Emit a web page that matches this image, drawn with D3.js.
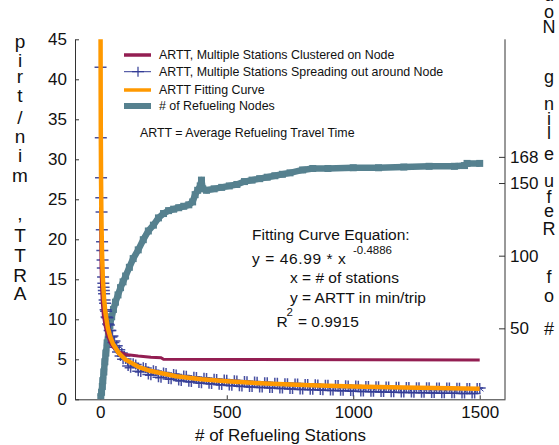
<!DOCTYPE html>
<html><head><meta charset="utf-8">
<script src="https://cdn.jsdelivr.net/npm/d3@7"></script>
<style>body{margin:0;background:#fff}svg{display:block;font-family:"Liberation Sans",Arial,Helvetica,sans-serif}</style>
</head><body><svg id="c" width="559" height="445"></svg>
<script>
// ---------- data ----------
const xTicks = [0, 500, 1000, 1500];
const yLeftTicks = [0, 5, 10, 15, 20, 25, 30, 35, 40, 45];
const yRightTicks = [50, 100, 150, 168];

// ARTT fitting curve
const fitX = [1, 1.5, 2, 3, 4, 5, 7, 10, 15, 20, 30, 40, 50, 75, 100, 150, 200, 300, 400, 500, 600, 800, 1000, 1200, 1500];
const fitY = [46.99, 38.5, 33.5, 27.5, 23.9, 21.4, 18.2, 15.2, 12.5, 10.9, 8.9, 7.75, 6.95, 5.7, 4.96, 4.06, 3.53, 2.89, 2.51, 2.25, 2.06, 1.79, 1.61, 1.47, 1.32];

// ARTT, multiple stations clustered on node
const clusX = [1, 2, 3, 5, 8, 12, 20, 30, 40, 50, 70, 100, 150, 200, 240, 250, 1500];
const clusY = [24, 19, 16.5, 14, 12, 10.5, 9, 7.8, 7, 6.5, 6, 5.6, 5.4, 5.25, 5.2, 5.0, 4.9];

// ARTT, multiple stations spreading out around node
const spreadX = [1, 2, 3, 4, 5, 6, 7, 8, 9, 10, 11, 12, 13, 14, 15, 17, 19, 21, 23, 25, 28, 31, 34, 37, 40, 44, 48, 52, 56, 60, 65, 70, 75, 80, 85, 90, 95,
  100, 120, 140, 160, 180, 200, 220, 240, 260, 280, 300, 320, 340, 360, 380, 400, 420, 440, 460, 480, 500, 520, 540, 560, 580, 600,
  620, 640, 660, 680, 700, 720, 740, 760, 780, 800, 820, 840, 860, 880, 900, 920, 940, 960, 980, 1000, 1020, 1040, 1060, 1080, 1100,
  1120, 1140, 1160, 1180, 1200, 1220, 1240, 1260, 1280, 1300, 1320, 1340, 1360, 1380, 1400, 1420, 1440, 1460, 1480, 1500];
const spreadY = [41.5, 32.7, 27.7, 25.2, 23.4, 21.2, 19.7, 18.6, 17.4, 16.4, 15.3, 14.5, 14.0, 13.6, 13.2, 12.4, 12.0, 11.2, 11.0, 10.3, 10.2, 9.4, 9.3, 8.6, 8.6, 7.8, 7.9, 7.1, 7.3, 6.5, 6.7, 5.9, 6.2, 5.4, 5.8, 5.0, 5.4,
  5.05, 3.95, 4.35, 3.40, 3.90, 3.00, 3.55, 2.70, 3.30, 2.50, 3.10, 2.30, 2.93, 2.15, 2.78, 2.02, 2.66, 1.90, 2.55, 1.80, 2.45, 1.70, 2.35, 1.61, 2.27, 1.53,
  2.19, 1.46, 2.13, 1.40, 2.07, 1.34, 2.01, 1.28, 1.96, 1.23, 1.91, 1.18, 1.86, 1.14, 1.82, 1.10, 1.78, 1.06, 1.74, 1.02, 1.70, 0.98, 1.66, 0.95, 1.63,
  0.92, 1.60, 0.89, 1.57, 0.86, 1.55, 0.83, 1.52, 0.81, 1.50, 0.79, 1.48, 0.77, 1.46, 0.75, 1.44, 0.73, 1.42, 0.71, 1.40];
const spreadX2 = [110, 130, 150, 170, 190, 210, 230, 250, 270, 290, 310, 330, 350, 370, 390, 410, 430, 450, 470, 490, 510, 530, 550, 570, 590,
  610, 630, 650, 670, 690, 710, 730, 750, 770, 790, 810, 830, 850, 870, 890, 910, 930, 950, 970, 990, 1010, 1030, 1050, 1070, 1090,
  1110, 1130, 1150, 1170, 1190, 1210, 1230, 1250, 1270, 1290, 1310, 1330, 1350, 1370, 1390, 1410, 1430, 1450, 1470, 1490, 1515];
const spreadY2 = [4.15, 4.5, 3.52, 4.0, 3.10, 3.62, 2.77, 3.35, 2.55, 3.15, 2.35, 2.97, 2.19, 2.81, 2.05, 2.69, 1.93, 2.57, 1.82, 2.47, 1.72, 2.37, 1.63, 2.29, 1.55,
  2.21, 1.47, 2.14, 1.41, 2.08, 1.35, 2.02, 1.29, 1.97, 1.24, 1.92, 1.19, 1.87, 1.15, 1.83, 1.11, 1.79, 1.07, 1.75, 1.03, 1.71, 0.99, 1.67, 0.95, 1.64,
  0.92, 1.61, 0.89, 1.58, 0.86, 1.55, 0.84, 1.52, 0.81, 1.50, 0.79, 1.48, 0.77, 1.46, 0.75, 1.44, 0.73, 1.42, 0.71, 1.40, 1.0];

// # of refueling nodes (right axis)
const nodesX = [2, 5, 8, 10, 14, 18, 22, 27, 32, 38, 45, 52, 60, 70, 80, 90, 100, 115, 130, 150, 170, 190, 210, 230, 250, 270, 290, 310, 330, 350, 365, 375, 385, 395, 400, 405, 420, 450, 480, 510, 540, 570, 600, 630, 660, 690, 720, 750, 800, 840, 900, 1000, 1100, 1200, 1300, 1400, 1440, 1450, 1500];
const nodesY = [3, 6, 10, 14, 20, 27, 33, 40, 46, 52, 58, 63, 68, 73, 78, 82, 86, 92, 98, 104, 111, 117, 121, 126, 129, 131, 132, 133, 134, 135, 137, 142, 145, 148, 152, 146, 145, 146, 147, 148, 149, 151, 152, 153, 154, 155, 156, 157, 159, 160, 160, 160.5, 160.5, 161, 161.5, 161.5, 162, 163.5, 163.5];

const legendLabels = ["ARTT, Multiple Stations Clustered on Node", "ARTT, Multiple Stations Spreading out around Node", "ARTT Fitting Curve", "# of Refueling Nodes"];
const leftTitle = "ARTT, min/trip";
const rightTitle = "# of Refueling Nodes";
const xTitle = "# of Refueling Stations";

// ---------- drawing ----------
const C = {clus: "#931e52", spread: "#333c96", fit: "#ff9900", nodes: "#56818f", axis: "#333", text: "#111"};
const svg = d3.select("#c");
const x = d3.scaleLinear().domain([-100, 1600]).range([75, 505]);
const yL = d3.scaleLinear().domain([0, 45]).range([399.3, 39.3]);
const yR = d3.scaleLinear().domain([0, 250]).range([401, 37.7]);

svg.append("defs").append("clipPath").attr("id", "clip").append("rect")
  .attr("x", 75).attr("y", yL(45)).attr("width", 430).attr("height", yL(0) - yL(45));

function styleAxis(g) {
  g.selectAll("path,line").attr("stroke", C.axis).attr("stroke-width", 1);
  g.selectAll("text").attr("font-size", 17).attr("fill", C.text).attr("font-family", null);
}
svg.append("g").attr("transform", `translate(0,${yL(0)})`)
  .call(d3.axisBottom(x).tickValues(xTicks).tickFormat(d3.format("d")).tickSizeInner(-4).tickSizeOuter(0).tickPadding(7)).call(styleAxis);
svg.append("g").attr("transform", `translate(75,0)`)
  .call(d3.axisLeft(yL).tickValues(yLeftTicks).tickFormat(d3.format("d")).tickSizeInner(-4).tickSizeOuter(0).tickPadding(8)).call(styleAxis);
const gr = svg.append("g").attr("transform", `translate(505,0)`)
  .call(d3.axisRight(yR).tickValues(yRightTicks).tickFormat(d3.format("d")).tickSizeInner(-6).tickSizeOuter(0).tickPadding(5)).call(styleAxis);
gr.select(".domain").remove();
gr.append("line").attr("y1", yL(45)).attr("y2", yL(0)).attr("stroke", C.axis);

const plot = svg.append("g").attr("clip-path", "url(#clip)");
const pts = (xs, ys) => xs.map((v, i) => [v, ys[i]]);

// nodes (right axis)
const nodes = pts(nodesX, nodesY);
plot.append("path").datum(nodes).attr("fill", "none").attr("stroke", C.nodes).attr("stroke-width", 6.5)
  .attr("stroke-linejoin", "round").attr("d", d3.line().x(d => x(d[0])).y(d => yR(d[1])));
plot.append("g").selectAll("rect").data(nodes).join("rect")
  .attr("x", d => x(d[0]) - 3.5).attr("y", d => yR(d[1]) - 3.5).attr("width", 7).attr("height", 7).attr("fill", C.nodes);

// spreading
const spread = pts(spreadX, spreadY).concat(pts(spreadX2, spreadY2)).sort((a, b) => a[0] - b[0]);
plot.append("path").datum(spread).attr("fill", "none").attr("stroke", C.spread).attr("stroke-width", 1)
  .attr("d", d3.line().x(d => x(d[0])).y(d => yL(d[1])));
plot.append("g").selectAll("path").data(spread.filter(d => d[0] <= 1500)).join("path")
  .attr("transform", d => `translate(${x(d[0])},${yL(d[1])})`)
  .attr("d", "M-6,0H6M0,-5V5").attr("stroke", C.spread).attr("stroke-width", 1.5).attr("fill", "none").attr("opacity", 0.9);

// clustered
plot.append("path").datum(pts(clusX, clusY)).attr("fill", "none").attr("stroke", C.clus).attr("stroke-width", 3)
  .attr("d", d3.line().x(d => x(d[0])).y(d => yL(d[1])));
// fit
plot.append("path").datum(pts(fitX, fitY)).attr("fill", "none").attr("stroke", C.fit).attr("stroke-width", 4.5)
  .attr("stroke-linejoin", "round").attr("d", d3.line().x(d => x(d[0])).y(d => yL(d[1])));

// legend
const leg = svg.append("g");
const rowsY = [55, 71.7, 90, 106];
const sw = [{c: C.clus, w: 3.5}, {c: C.spread, w: 1}, {c: C.fit, w: 3.5}, {c: C.nodes, w: 6}];
legendLabels.forEach((t, i) => {
  leg.append("line").attr("x1", 124).attr("x2", 151).attr("y1", rowsY[i]).attr("y2", rowsY[i])
    .attr("stroke", sw[i].c).attr("stroke-width", sw[i].w);
  if (i === 1) leg.append("path").attr("transform", `translate(138,${rowsY[i]})`).attr("d", "M-6,0H6M0,-5V5")
    .attr("stroke", C.spread).attr("stroke-width", 1.2);
  leg.append("text").attr("x", 159).attr("y", rowsY[i] + 4.3).attr("font-size", 12.4).attr("fill", C.text).text(t);
});
svg.append("text").attr("x", 140).attr("y", 137).attr("font-size", 12.4).attr("fill", C.text)
  .text("ARTT = Average Refueling Travel Time");

// equation block
const eq = svg.append("g").attr("fill", C.text).attr("font-size", 15.5);
eq.append("text").attr("x", 252).attr("y", 240).text("Fitting Curve Equation:");
eq.append("text").attr("x", 252).attr("y", 264).attr("letter-spacing", 0.6).text("y = 46.99 * x");
eq.append("text").attr("x", 353).attr("y", 254).attr("font-size", 11.5).text("-0.4886");
eq.append("text").attr("x", 290).attr("y", 283.3).text("x = # of stations");
eq.append("text").attr("x", 290).attr("y", 302.7).text("y = ARTT in min/trip");
eq.append("text").attr("x", 276.5).attr("y", 326.7).text("R");
eq.append("text").attr("x", 286.5).attr("y", 316).attr("font-size", 11.5).text("2");
eq.append("text").attr("x", 298).attr("y", 326.7).text("= 0.9915");

// x title
svg.append("text").attr("x", 280.5).attr("y", 441).attr("text-anchor", "middle").attr("font-size", 17)
  .attr("fill", C.text).text(xTitle);

// stacked axis titles (upright glyphs, read bottom to top)
function stacked(str, cx, baselines, fs) {
  const g = svg.append("g").attr("font-size", fs).attr("fill", C.text).attr("text-anchor", "middle");
  [...str].forEach((ch, i) => { if (ch !== " ") g.append("text").attr("x", cx).attr("y", baselines[i]).text(ch); });
}
stacked(leftTitle, 20, [300, 281.7, 261.7, 241.7, 220, 200, 182.3, 161.7, 143, 124, 101.7, 83.3, 66.7, 47.7], 19);
stacked(rightTitle, 549, [335, 318, 302, 283, 260, 235, 217, 203, 187, 160, 139, 125, 110, 83, 58, 33, 18, 1, -16, -32], 18);
</script></body></html>
